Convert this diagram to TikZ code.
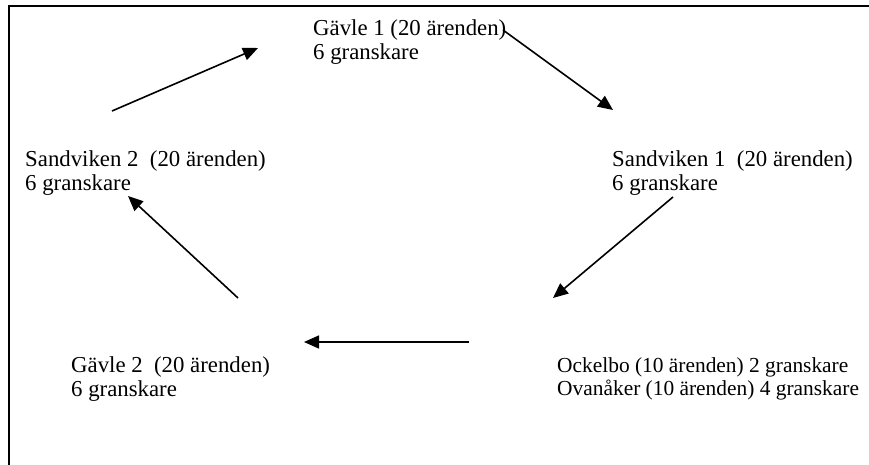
\documentclass[tikz,border=0pt]{standalone}
\usepackage{fontspec}
\setmainfont{Liberation Serif}
\usetikzlibrary{arrows.meta}
\tikzset{
  lbl/.style={anchor=base west, inner sep=0pt, align=left, font=\fontsize{22.8}{24}\selectfont},
  lblsmall/.style={lbl, font=\fontsize{21.4}{23}\selectfont},
  arr/.style={line width=1.6pt, -{Triangle[length=15pt,width=13pt]}},
  frame/.style={line width=2pt}
}
\begin{document}
\begin{tikzpicture}[x=1pt,y=-1pt]
\useasboundingbox (0,0) rectangle (869,464);
\draw[frame] (8.5,470) -- (8.5,6) -- (875,6);
\node[lbl] (g1) at (313,59) {Gävle 1 (20 ärenden)\\6 granskare};
\node[lbl] (s1) at (612,190) {Sandviken 1\ \ (20 ärenden)\\6 granskare};
\node[lblsmall] (ock) at (557,395) {Ockelbo (10 ärenden) 2 granskare\\Ovanåker (10 ärenden) 4 granskare};
\node[lbl] (g2) at (71,396) {Gävle 2\ \ (20 ärenden)\\6 granskare};
\node[lbl] (s2) at (25,190) {Sandviken 2\ \ (20 ärenden)\\6 granskare};
\coordinate (s2out) at (112,111);
\coordinate (g1in) at (258,48);
\coordinate (g1out) at (503,30);
\coordinate (s1in) at (613,110);
\coordinate (s1out) at (673,197);
\coordinate (ockin) at (553,298);
\coordinate (ockout) at (469,342);
\coordinate (g2in) at (304,342);
\coordinate (g2out) at (238,298);
\coordinate (s2in) at (128,196);
\draw[arr] (s2out) -- (g1in);
\draw[arr] (g1out) -- (s1in);
\draw[arr] (s1out) -- (ockin);
\draw[arr] (ockout) -- (g2in);
\draw[arr] (g2out) -- (s2in);
\end{tikzpicture}
\end{document}
